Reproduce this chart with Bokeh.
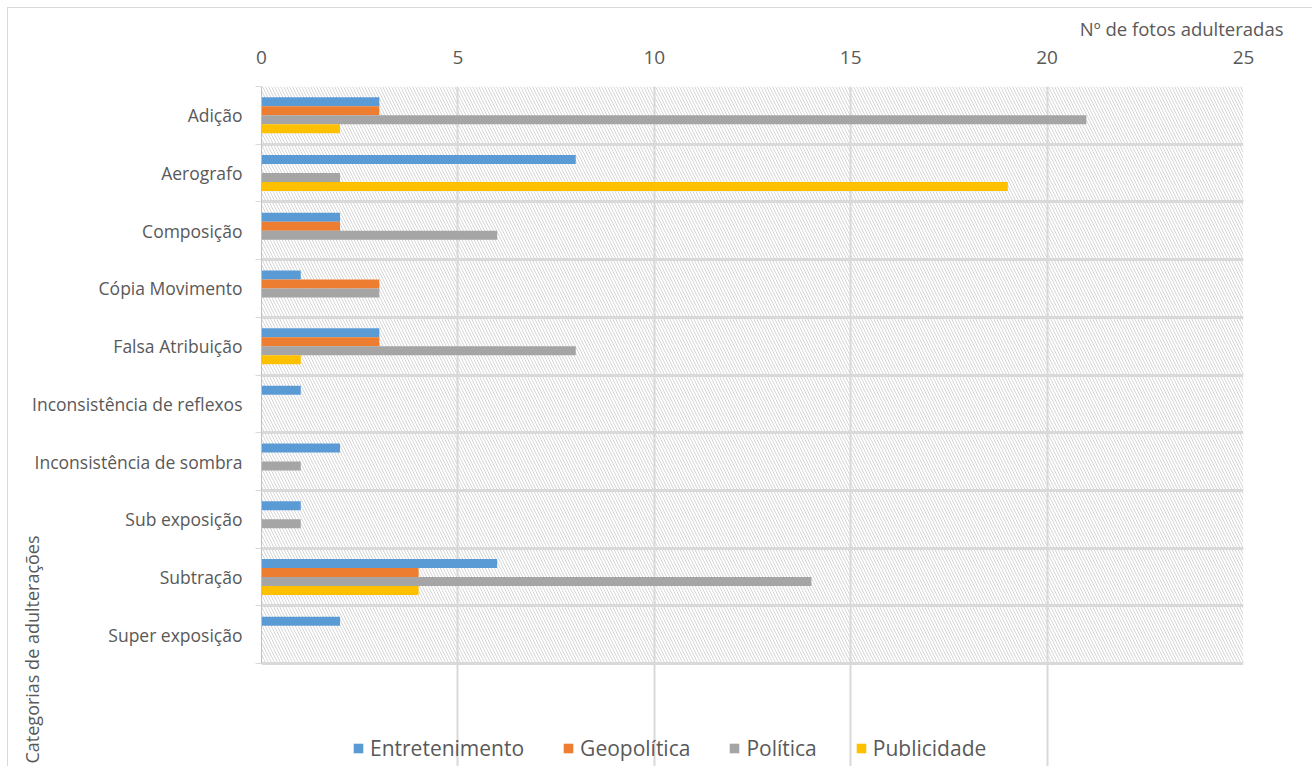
import numpy as np
from bokeh.plotting import figure
from bokeh.models import (FixedTicker, BoxAnnotation, Legend, LegendItem, Title,
                          Range1d, ColumnDataSource)
from bokeh.embed import file_html
from bokeh.resources import INLINE

categories = ["Adição", "Aerografo", "Composição", "Cópia Movimento", "Falsa Atribuição",
              "Inconsistência de reflexos", "Inconsistência de sombra", "Sub exposição",
              "Subtração", "Super exposição"]
series_names = ["Entretenimento", "Geopolítica", "Política", "Publicidade"]
entretenimento = [3, 8, 2, 1, 3, 1, 2, 1, 6, 2]
geopolitica = [3, 0, 2, 3, 3, 0, 0, 0, 4, 0]
politica = [21, 2, 6, 3, 8, 0, 1, 1, 14, 0]
publicidade = [2, 19, 0, 0, 1, 0, 0, 0, 4, 0]
x_ticks = [0, 5, 10, 15, 20, 25]

colors = ["#5B9BD5", "#ED7D31", "#A5A5A5", "#FFC000"]
FONT = "Open Sans"
TXT = "#595959"
GRID = "#d9d9d9"

n = len(categories)
centers = [n - i - 0.5 for i in range(n)]
bounds = list(range(n + 1))
bar_h = 0.156
offsets = [1.5 * bar_h, 0.5 * bar_h, -0.5 * bar_h, -1.5 * bar_h]

# plot area 577 px for n categories; extra 104 px below holds the legend
extra = 104 / (577 / n)

p = figure(width=1305, height=759, output_backend="svg", toolbar_location=None,
           x_range=Range1d(0, 25), y_range=Range1d(-extra, n), x_axis_location="above",
           min_border_left=253, min_border_right=70, min_border_top=78,
           min_border_bottom=0)
p.styles = {"margin-left": "7px", "margin-top": "7px",
            "border-left": "1px solid #d9d9d9", "border-top": "1px solid #d9d9d9"}
p.outline_line_color = None
p.background_fill_color = "white"

bg = BoxAnnotation(bottom=0, fill_color="white", fill_alpha=1.0, line_color=None,
                   hatch_pattern="\\", hatch_color="#d6d6d6", hatch_scale=6,
                   hatch_weight=1, level="image")
p.add_layout(bg)

items = []
for name, vals, col, off in zip(series_names,
                                [entretenimento, geopolitica, politica, publicidade],
                                colors, offsets):
    src = ColumnDataSource(dict(y=[c + off for c in centers], right=vals))
    r = p.hbar(y="y", left=0, right="right", height=bar_h, source=src,
               fill_color=col, line_color=None)
    items.append(LegendItem(label=name, renderers=[r]))

# x axis (top)
xa = p.xaxis[0]
xa.ticker = FixedTicker(ticks=x_ticks, minor_ticks=[])
xa.axis_line_color = None
xa.major_tick_line_color = None
xa.minor_tick_line_color = None
xa.major_label_standoff = 17
xa.major_label_text_font = FONT
xa.major_label_text_font_size = "19px"
xa.major_label_text_color = TXT

# y axis (left)
ya = p.yaxis[0]
ya.ticker = FixedTicker(ticks=centers, minor_ticks=bounds)
ya.major_label_overrides = {c: cat for c, cat in zip(centers, categories)}
ya.bounds = (0, n)
ya.major_tick_line_color = None
ya.minor_tick_out = 6
ya.minor_tick_in = 0
ya.minor_tick_line_color = GRID
ya.axis_line_color = "#bfbfbf"
ya.major_label_standoff = 13
ya.major_label_text_font = FONT
ya.major_label_text_font_size = "17.5px"
ya.major_label_text_color = TXT

p.xgrid.ticker = FixedTicker(ticks=x_ticks)
p.xgrid.bounds = (0, n)
p.xgrid.grid_line_color = GRID
p.xgrid.grid_line_width = 2
p.ygrid.ticker = FixedTicker(ticks=bounds)
p.ygrid.grid_line_color = GRID
p.ygrid.grid_line_width = 3

xt = Title(text="Nº de fotos adulteradas", align="right", offset=-40, standoff=10,
           vertical_align="top",
           text_font=FONT, text_font_size="18.5px", text_color=TXT,
           text_font_style="normal")
p.add_layout(xt, "above")
yt = Title(text="Categorias de adulterações", align="left", offset=4, standoff=-28,
           text_font=FONT, text_font_size="18px", text_color=TXT,
           text_font_style="normal")
p.add_layout(yt, "left")

legend = Legend(items=items, orientation="horizontal", location=(91, 5),
                padding=0, margin=0, spacing=38, glyph_width=12, glyph_height=12,
                label_standoff=6, label_text_font=FONT, label_text_font_size="21px",
                label_text_color=TXT, border_line_color=None, background_fill_alpha=0)
p.add_layout(legend, "center")

open("out.html", "w").write(file_html(p, INLINE))
